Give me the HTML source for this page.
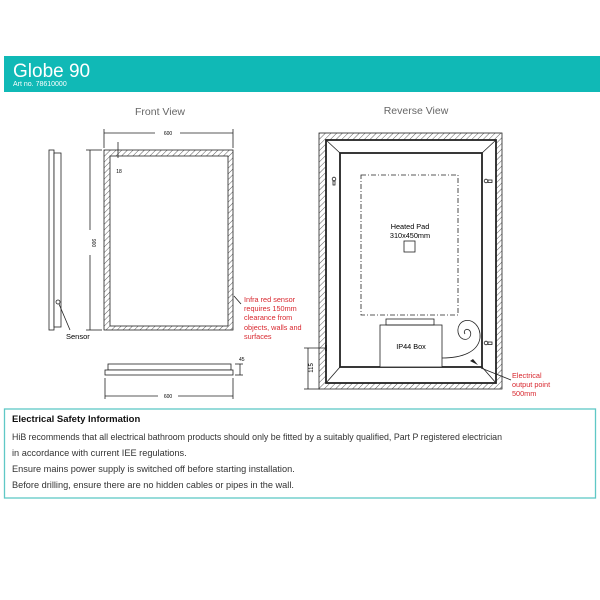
<!DOCTYPE html>
<html><head><meta charset="utf-8"><style>
html,body{margin:0;padding:0;background:#fff;width:600px;height:600px;overflow:hidden}
svg{display:block}
text{font-family:"Liberation Sans",sans-serif}
</style></head><body>
<svg width="600" height="600" viewBox="0 0 600 600" xmlns="http://www.w3.org/2000/svg">
<defs>
<pattern id="h" patternUnits="userSpaceOnUse" width="4" height="4" patternTransform="rotate(45)">
<rect width="4" height="4" fill="#fff"/><line x1="0" y1="0" x2="0" y2="4" stroke="#333" stroke-width="0.8"/>
</pattern>
</defs>
<rect x="4" y="56" width="596" height="36" fill="#10b9b6"/>
<text x="13" y="77" font-size="19" fill="#fff">Globe 90</text>
<text x="13" y="86" font-size="7" fill="#fff">Art no. 78610000</text>

<text x="160" y="115" font-size="10.5" fill="#666" text-anchor="middle">Front View</text>
<text x="416" y="114" font-size="10.5" fill="#666" text-anchor="middle">Reverse View</text>

<g stroke="#222" stroke-width="0.8">
<rect x="104" y="150" width="129" height="180" fill="url(#h)"/>
<rect x="110" y="156" width="118" height="170" fill="#fff"/>
<line x1="104" y1="133" x2="155" y2="133"/><line x1="180" y1="133" x2="233" y2="133"/>
<line x1="104" y1="129" x2="104" y2="148"/><line x1="233" y1="129" x2="233" y2="148"/>
<line x1="90" y1="150" x2="90" y2="230"/><line x1="90" y1="255" x2="90" y2="330"/>
<line x1="86" y1="150" x2="102" y2="150"/><line x1="86" y1="330" x2="102" y2="330"/>
<line x1="118" y1="142" x2="118" y2="158"/>
<rect x="49" y="150" width="5" height="180" fill="#fff"/>
<rect x="54" y="153" width="7" height="174" fill="#fff"/>
<circle cx="58" cy="302" r="2" fill="#fff"/>
<line x1="59" y1="304" x2="70" y2="330"/>
<line x1="234" y1="296" x2="241" y2="304"/>
<rect x="108" y="364" width="123" height="6" fill="#fff"/>
<rect x="105" y="370" width="128" height="5" fill="#fff"/>
<line x1="105" y1="378" x2="105" y2="399"/><line x1="233" y1="378" x2="233" y2="399"/>
<line x1="105" y1="396" x2="158" y2="396"/><line x1="178" y1="396" x2="233" y2="396"/>
<line x1="240" y1="364" x2="240" y2="375"/><line x1="235" y1="364" x2="243" y2="364"/><line x1="235" y1="375" x2="243" y2="375"/>
</g>
<text x="168" y="135" font-size="5" text-anchor="middle">600</text>
<text x="119" y="173" font-size="5" text-anchor="middle">18</text>
<text transform="translate(92,243) rotate(90)" font-size="5" text-anchor="middle">900</text>
<text x="66" y="339" font-size="7.5">Sensor</text>
<text x="168" y="398" font-size="5" text-anchor="middle">600</text>
<text x="239" y="361" font-size="5">45</text>
<g font-size="7.3" fill="#d8272e">
<text x="244" y="302">Infra red sensor</text>
<text x="244" y="311">requires 150mm</text>
<text x="244" y="320">clearance from</text>
<text x="244" y="330">objects, walls and</text>
<text x="244" y="339">surfaces</text>
</g>

<g stroke="#222" fill="none">
<rect x="319" y="133" width="183" height="256" fill="url(#h)" stroke-width="0.8"/>
<rect x="326" y="140" width="170" height="243" fill="#fff" stroke-width="1.8"/>
<rect x="340" y="153" width="142" height="214" stroke-width="1.8"/>
<g stroke-width="0.8">
<line x1="326" y1="140" x2="340" y2="153"/><line x1="496" y1="140" x2="482" y2="153"/>
<line x1="326" y1="383" x2="340" y2="367"/><line x1="496" y1="383" x2="482" y2="367"/>
<rect x="361" y="175" width="97" height="140" stroke-dasharray="5,2,1,2"/>
<rect x="404" y="241" width="11" height="11"/>
<rect x="380" y="325" width="62" height="42" fill="#fff"/>
<rect x="386" y="319" width="48" height="6"/>
<path d="M442,358 C462,358 478,352 480,338 C481,326 472,318 464,321 C456,324 456,336 463,339 C470,341 473,333 469,330 C466,328 463,331 465,334"/>
<line x1="481" y1="368" x2="511" y2="380"/>
<circle cx="334" cy="179" r="1.8"/><rect x="333" y="181" width="2" height="4"/>
<circle cx="486" cy="181" r="1.8"/><rect x="488" y="180" width="4" height="2.5"/>
<circle cx="486" cy="343" r="1.8"/><rect x="488" y="342" width="4" height="2.5"/>
<line x1="308" y1="348" x2="308" y2="389"/><line x1="304" y1="348" x2="326" y2="348"/><line x1="304" y1="389" x2="320" y2="389"/>
</g>
<rect x="325" y="345" width="2" height="6" fill="#222" stroke="none"/>
</g>
<path d="M478,365 L470,361 L473,359z" fill="#222"/>
<text x="410" y="229" font-size="7.3" text-anchor="middle">Heated Pad</text>
<text x="410" y="238" font-size="7.3" text-anchor="middle">310x450mm</text>
<text x="411" y="349" font-size="7.3" text-anchor="middle">IP44 Box</text>
<text transform="translate(313,368) rotate(-90)" font-size="6" text-anchor="middle">115</text>
<g font-size="7.3" fill="#d8272e">
<text x="512" y="378">Electrical</text>
<text x="512" y="387">output point</text>
<text x="512" y="396">500mm</text>
</g>

<rect x="4.5" y="409" width="591" height="89" fill="none" stroke="#5fc8c6" stroke-width="1.3"/>
<text x="12" y="422" font-size="9.5" font-weight="bold" fill="#111">Electrical Safety Information</text>
<g font-size="9.2" fill="#333">
<text x="12" y="440" textLength="490" lengthAdjust="spacingAndGlyphs">HiB recommends that all electrical bathroom products should only be fitted by a suitably qualified, Part P registered electrician</text>
<text x="12" y="456">in accordance with current IEE regulations.</text>
<text x="12" y="472">Ensure mains power supply is switched off before starting installation.</text>
<text x="12" y="488">Before drilling, ensure there are no hidden cables or pipes in the wall.</text>
</g>
</svg>
</body></html>
